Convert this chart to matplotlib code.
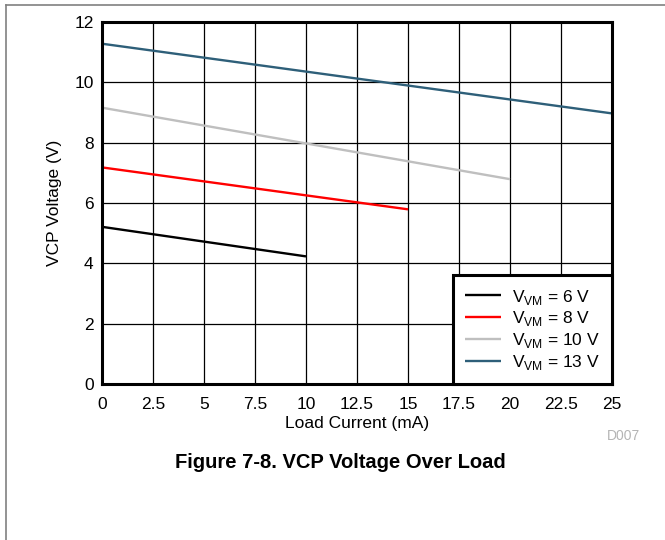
import matplotlib

matplotlib.use("Agg")
import matplotlib.pyplot as plt
from matplotlib.lines import Line2D

plt.rcParams["font.family"] = ["Liberation Sans", "DejaVu Sans"]

# load current (mA) and VCP voltage (V)
load_6v = [0, 10]
vcp_6v = [5.21, 4.23]
load_8v = [0, 15]
vcp_8v = [7.18, 5.79]
load_10v = [0, 20]
vcp_10v = [9.16, 6.79]
load_13v = [0, 25]
vcp_13v = [11.28, 8.97]

labels = ["V$_\\mathregular{VM}$ = 6 V", "V$_\\mathregular{VM}$ = 8 V",
          "V$_\\mathregular{VM}$ = 10 V", "V$_\\mathregular{VM}$ = 13 V"]
colors = ["#000000", "#ff0000", "#bfbfbf", "#2e5f79"]
x_ticks = [0, 2.5, 5, 7.5, 10, 12.5, 15, 17.5, 20, 22.5, 25]
x_ticklabels = ["0", "2.5", "5", "7.5", "10", "12.5", "15", "17.5", "20", "22.5", "25"]
y_ticks = [0, 2, 4, 6, 8, 10, 12]

FS = 12.5

fig = plt.figure(figsize=(6.65, 5.40), dpi=100)
ax = fig.add_axes([102 / 665, 156 / 540, 510 / 665, 362 / 540])

series = [(load_6v, vcp_6v), (load_8v, vcp_8v), (load_10v, vcp_10v), (load_13v, vcp_13v)]
for (x, y), lab, c in zip(series, labels, colors):
    ax.plot(x, y, color=c, lw=1.7, label=lab, solid_capstyle="butt", zorder=3)

ax.set_xlim(0, 25)
ax.set_ylim(0, 12)
ax.set_xticks(x_ticks)
ax.set_xticklabels(x_ticklabels)
ax.set_yticks(y_ticks)
ax.grid(True, color="black", lw=0.9)
ax.tick_params(length=0, labelsize=FS)
ax.tick_params(axis="x", pad=9.5)
ax.tick_params(axis="y", pad=6)
for s in ax.spines.values():
    s.set_linewidth(2.2)
    s.set_zorder(4)

ax.set_xlabel("Load Current (mA)", fontsize=FS, labelpad=3)
ax.set_ylabel("VCP Voltage (V)", fontsize=FS, labelpad=9)

leg = ax.legend(loc="lower right", fontsize=FS, frameon=True, fancybox=False,
                borderaxespad=0, handlelength=2.1, handletextpad=0.6,
                labelspacing=0.16, borderpad=0.7, framealpha=1)
leg.get_frame().set_edgecolor("black")
leg.get_frame().set_linewidth(2.2)
leg.set_zorder(5)

fig.text(623 / 665, 1 - 436 / 540, "D007", color="#b4b4b4", fontsize=10,
         ha="center", va="center")
fig.text(340 / 665, 1 - 468 / 540, "Figure 7-8. VCP Voltage Over Load",
         fontsize=14.5, fontweight="bold", ha="center", va="baseline")

# page frame, only left and top edges show in the crop
fig.add_artist(Line2D([6 / 665, 6 / 665], [0, 1 - 5 / 540], transform=fig.transFigure,
                      color="#808080", lw=1.2))
fig.add_artist(Line2D([6 / 665, 1], [1 - 5 / 540, 1 - 5 / 540], transform=fig.transFigure,
                      color="#808080", lw=1.2))

fig.savefig("out.png", dpi=100)
